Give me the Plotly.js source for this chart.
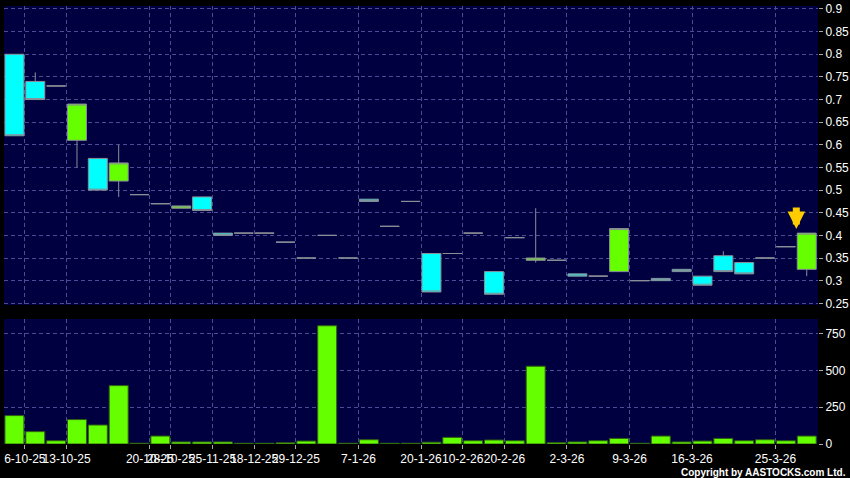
<!DOCTYPE html>
<html>
<head>
<meta charset="utf-8">
<script src="https://cdn.plot.ly/plotly-3.0.1.min.js"></script>
<style>
html,body{margin:0;padding:0;background:#000;}
#chart{width:850px;height:478px;}
</style>
</head>
<body>
<div id="chart"></div>
<script>
// ---- data ----
var openP  = [0.80,0.74,0.73,0.61,0.57,0.52,0.49,0.47,0.46,0.485,0.405,0.405,0.405,0.385,0.35,0.40,0.35,0.48,0.42,0.475,0.36,0.36,0.405,0.32,0.395,0.345,0.345,0.315,0.31,0.32,0.30,0.305,0.325,0.31,0.355,0.34,0.35,0.375,0.325];
var highP  = [0.80,0.76,0.73,0.69,0.57,0.60,0.49,0.47,0.465,0.485,0.405,0.405,0.405,0.385,0.35,0.40,0.35,0.48,0.42,0.475,0.36,0.36,0.405,0.32,0.395,0.46,0.345,0.315,0.31,0.415,0.30,0.305,0.325,0.31,0.365,0.34,0.35,0.375,0.405];
var lowP   = [0.62,0.70,0.73,0.55,0.50,0.485,0.49,0.47,0.46,0.455,0.40,0.405,0.405,0.385,0.35,0.40,0.35,0.475,0.42,0.475,0.275,0.36,0.405,0.27,0.395,0.34,0.345,0.31,0.31,0.32,0.30,0.30,0.32,0.29,0.32,0.315,0.35,0.375,0.31];
var closeP = [0.62,0.70,0.73,0.69,0.50,0.56,0.49,0.47,0.465,0.455,0.40,0.405,0.405,0.385,0.35,0.40,0.35,0.475,0.42,0.475,0.275,0.36,0.405,0.27,0.395,0.35,0.345,0.31,0.31,0.415,0.30,0.30,0.32,0.29,0.32,0.315,0.35,0.375,0.405];
var volume = [193,84,22,166,129,397,5,54,14,14,14,5,5,8,20,804,5,29,5,5,12,45,22,27,22,529,9,14,22,38,5,54,14,20,38,22,29,22,54];
// which session each date label belongs to (0-based session number) and the labels
var labelSession = [1,3,7,8,10,12,14,17,20,22,24,27,30,33,37];
var labelText = ['6-10-25','13-10-25','20-10-25','28-10-25','25-11-25','18-12-25','29-12-25','7-1-26','20-1-26','10-2-26','20-2-26','2-3-26','9-3-26','16-3-26','25-3-26'];
var priceTicks = [0.25,0.3,0.35,0.4,0.45,0.5,0.55,0.6,0.65,0.7,0.75,0.8,0.85,0.9];
var volTicks = [0,250,500,750];

// ---- build ----
var n = closeP.length;
var idx = [];
for (var i = 0; i < n; i++) idx.push(i);
var tickPos = labelSession.map(function(s){ return s - 0.5; });

var gridCol = '#4b4b96';
var dashPat = '4px,3px';
var fontBase = {family:'Arial, Liberation Sans, sans-serif', size:12, color:'#ffffff'};

var candle = {
  type:'candlestick', x:idx, open:openP, high:highP, low:lowP, close:closeP,
  xaxis:'x', yaxis:'y', hoverinfo:'none', showlegend:false,
  increasing:{fillcolor:'#66ff00', line:{color:'#8a8f96', width:1}},
  decreasing:{fillcolor:'#00ffff', line:{color:'#8a8f96', width:1}},
  whiskerwidth:0
};
var vol = {
  type:'bar', x:idx, y:volume, xaxis:'x2', yaxis:'y2', hoverinfo:'none', showlegend:false,
  marker:{color:'#66ff00', line:{color:'#2f5f10', width:1}}
};

var xCommon = {
  range:[-0.5, n - 0.46], autorange:false, tickmode:'array', tickvals:tickPos, ticktext:labelText,
  showgrid:true, gridcolor:gridCol, griddash:dashPat, gridwidth:1, tickangle:0, automargin:false,
  zeroline:false, showline:false, fixedrange:true, rangeslider:{visible:false}
};
var xa1 = Object.assign({}, xCommon, {anchor:'y', showticklabels:false, ticks:''});
var xa2 = Object.assign({}, xCommon, {anchor:'y2', ticks:'outside', ticklen:4, tickcolor:'#aaaaaa', tickfont:fontBase});

var layout = {
  width:850, height:478,
  margin:{l:4, r:32, t:6, b:34},
  paper_bgcolor:'#000000', plot_bgcolor:'#000040',
  boxgap:0.09, boxgroupgap:0, bargap:0.09,
  xaxis:xa1, xaxis2:xa2,
  yaxis:{domain:[0.3174,1], side:'right', range:[0.2463,0.9066], tickmode:'array', tickvals:priceTicks,
         ticktext:priceTicks.map(function(v){return String(v);}), automargin:false,
         ticks:'outside', ticklen:4, tickcolor:'#aaaaaa', tickfont:fontBase,
         showgrid:true, gridcolor:gridCol, griddash:dashPat, zeroline:false, fixedrange:true, anchor:'x'},
  yaxis2:{domain:[0,0.2854], side:'right', range:[0,850], tickmode:'array', tickvals:volTicks, automargin:false,
         ticks:'outside', ticklen:4, tickcolor:'#aaaaaa', tickfont:fontBase,
         showgrid:true, gridcolor:gridCol, griddash:dashPat, zeroline:false, fixedrange:true, anchor:'x2'},
  annotations:[
    {xref:'x', yref:'y', x:n - 1.5, y:highP[n-1] + 0.009, ax:0, ay:-23, showarrow:true,
     arrowhead:2, arrowsize:0.5, arrowwidth:7, arrowcolor:'#ffcc00', text:''},
    {xref:'paper', yref:'paper', x:1.037, xanchor:'right', y:-0.064, yanchor:'middle', showarrow:false,
     text:'<b>Copyright by AASTOCKS.com Ltd.</b>', font:{family:'Arial, Liberation Sans, sans-serif', size:10, color:'#ffffff'}}
  ]
};

Plotly.newPlot('chart', [candle, vol], layout, {displayModeBar:false, staticPlot:true});
</script>
</body>
</html>
